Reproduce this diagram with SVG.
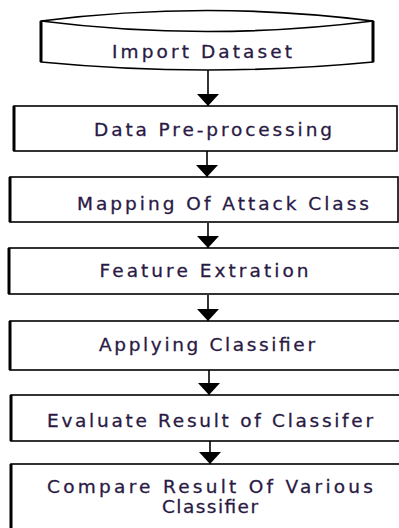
<svg xmlns="http://www.w3.org/2000/svg" width="399" height="528" viewBox="0 0 399 528">
  <style>
    .shape { fill: #ffffff; stroke: #000000; stroke-width: 1.6; }
    .edge { fill: none; stroke: #000000; stroke-width: 3; }
    .label { font-family: "DejaVu Sans", Verdana, sans-serif; font-size: 18.5px; fill: #2a1a44; stroke: #2a1a44; stroke-width: 0.3; text-anchor: middle; }
    .link { fill: none; stroke: #000000; stroke-width: 1.6; }
  </style>
  <defs>
    <!-- solid triangular head, drawn along +x so orient="auto" points it down the line -->
    <marker id="arrow" viewBox="0 0 12 22" refX="12" refY="11" markerWidth="12" markerHeight="22" markerUnits="userSpaceOnUse" orient="auto">
      <path d="M0,0 L12,11 L0,22 Z" fill="#000000"/>
    </marker>
  </defs>
  <rect width="399" height="528" fill="#ffffff"/>

  <!-- connectors -->
  <g id="connectors">
    <path class="link" d="M208,70 V106" marker-end="url(#arrow)"/>
    <path class="link" d="M207,151 V177" marker-end="url(#arrow)"/>
    <path class="link" d="M208,223 V248" marker-end="url(#arrow)"/>
    <path class="link" d="M208,295 V321" marker-end="url(#arrow)"/>
    <path class="link" d="M209,370 V395" marker-end="url(#arrow)"/>
    <path class="link" d="M210,441 V464" marker-end="url(#arrow)"/>
  </g>

  <!-- data source -->
  <g id="import-dataset">
    <path class="shape" d="M41,21 Q207,0 373,21 V62 Q207,78 41,62 Z"/>
    <path class="link" d="M41,21 Q207,42 373,21"/>
    <path class="edge" d="M41,21 V62"/>
    <path class="edge" d="M373,21 V62"/>
    <text class="label" x="202" y="58" textLength="180" lengthAdjust="spacing">Import Dataset</text>
  </g>

  <g id="pre-processing">
    <rect class="shape" x="14" y="106" width="383" height="45"/>
    <path class="edge" d="M14,106 V151"/>
    <text class="label" x="213" y="136" textLength="238" lengthAdjust="spacing">Data Pre-processing</text>
  </g>

  <g id="mapping">
    <rect class="shape" x="10" y="177" width="388" height="45"/>
    <path class="edge" d="M10,177 V222"/>
    <text class="label" x="223" y="210" textLength="292" lengthAdjust="spacing">Mapping Of Attack Class</text>
  </g>

  <g id="feature-extraction">
    <rect class="shape" x="9" y="248" width="392" height="46"/>
    <path class="edge" d="M9,248 V294"/>
    <text class="label" x="204" y="277" textLength="209" lengthAdjust="spacing">Feature Extration</text>
  </g>

  <g id="applying-classifier">
    <rect class="shape" x="10" y="321" width="392" height="49"/>
    <path class="edge" d="M10,321 V370"/>
    <text class="label" x="207" y="351" textLength="216" lengthAdjust="spacing">Applying Classifier</text>
  </g>

  <g id="evaluate-result">
    <rect class="shape" x="11" y="395" width="392" height="46"/>
    <path class="edge" d="M11,395 V441"/>
    <text class="label" x="210" y="427" textLength="326" lengthAdjust="spacing">Evaluate Result of Classifer</text>
  </g>

  <g id="compare-result">
    <rect class="shape" x="11" y="464" width="392" height="80"/>
    <path class="edge" d="M11,464 V530"/>
    <text class="label" x="210" y="493" textLength="326" lengthAdjust="spacing">Compare Result Of Various</text>
    <text class="label" x="210" y="513" textLength="96" lengthAdjust="spacing">Classifier</text>
  </g>
</svg>
